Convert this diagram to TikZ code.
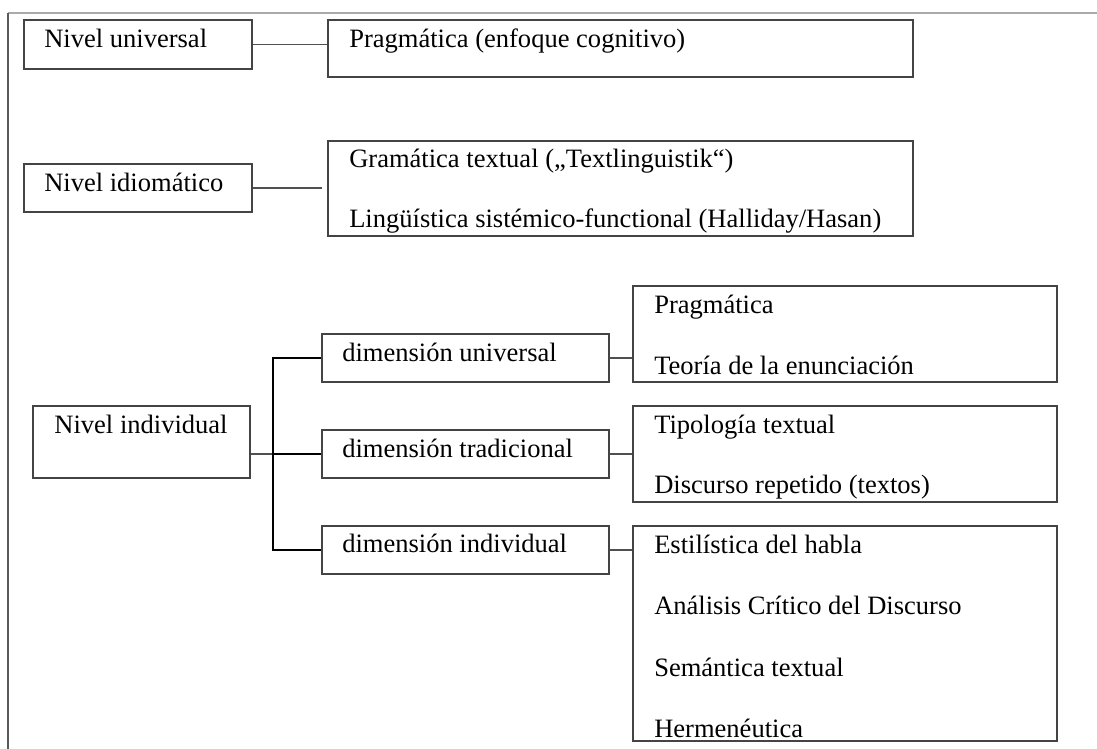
\documentclass[tikz,border=0pt]{standalone}
\usepackage{fontspec}
\setmainfont{Liberation Serif}
\usetikzlibrary{fit}
\definecolor{boxc}{HTML}{444444}
\definecolor{linec}{HTML}{505050}
\definecolor{framel}{HTML}{5A5A5A}
\definecolor{framet}{HTML}{AAAAAA}
\begin{document}
\begin{tikzpicture}[x=0.75pt,y=-0.75pt,
  box/.style={draw=boxc,line width=0.8pt,inner sep=0pt,rectangle},
  txt/.style={inner sep=0pt,anchor=base west,font=\fontsize{19.9}{24}\selectfont,text=black},
  conn/.style={draw=linec,line width=0.8pt},
  trunk/.style={draw=black,line width=0.9pt}]
\useasboundingbox (0,0) rectangle (1097,749);
% frame
\coordinate (ftl) at (8,13);
\coordinate (ftr) at (1097,13);
\coordinate (fbl) at (8,749);
\draw[framet,line width=1.2pt] (ftl) -- (ftr);
\draw[framel,line width=1.2pt] (ftl) -- (fbl);
% boxes
\node[box,fit={(24,20) (252,69)}] (nu) {};
\node[box,fit={(328,20) (913,77)}] (pc) {};
\node[box,fit={(24,164) (252,212)}] (ni) {};
\node[box,fit={(328,141) (913,236)}] (gt) {};
\node[box,fit={(33,406) (250,478)}] (nind) {};
\node[box,fit={(322,334) (609,382)}] (du) {};
\node[box,fit={(322,430) (609,478)}] (dt) {};
\node[box,fit={(322,526) (609,574)}] (di) {};
\node[box,fit={(633,286) (1057,382)}] (r1) {};
\node[box,fit={(633,406) (1057,502)}] (r2) {};
\node[box,fit={(633,526) (1057,741)}] (r3) {};
% texts
\node[txt] (tnu) at (44,48) {Nivel universal};
\node[txt] (tpc) at (349,48) {Pragmática (enfoque cognitivo)};
\node[txt] (tni) at (44,191) {Nivel idiomático};
\node[txt] (tgt1) at (349,167) {Gramática textual („Textlinguistik“)};
\node[txt] (tgt2) at (349,227) {Lingüística sistémico-functional (Halliday/Hasan)};
\node[txt,anchor=base] (tnind) at (141,433) {Nivel individual};
\node[txt] (tdu) at (342,361) {dimensión universal};
\node[txt] (tdt) at (342,457) {dimensión tradicional};
\node[txt] (tdi) at (342,552) {dimensión individual};
\node[txt] (tr11) at (654,313) {Pragmática};
\node[txt] (tr12) at (654,374) {Teoría de la enunciación};
\node[txt] (tr21) at (654,433) {Tipología textual};
\node[txt] (tr22) at (654,493) {Discurso repetido (textos)};
\node[txt] (tr31) at (654,553) {Estilística del habla};
\node[txt] (tr32) at (654,614) {Análisis Crítico del Discurso};
\node[txt] (tr33) at (654,676) {Semántica textual};
\node[txt] (tr34) at (654,737) {Hermenéutica};
% connectors
\draw[conn] (nu.east) -- (nu.east -| pc.west);
\coordinate (giend) at (322,188);
\draw[conn] (ni.east) -- (giend);
\coordinate (tr) at (273,454);
\draw[conn] (nind.east |- tr) -- (dt.west);
\draw[trunk] (du.west) -| (tr) |- (di.west);
\draw[trunk] (tr) -- (dt.west);
\draw[conn] (du.east) -- (du.east -| r1.west);
\draw[conn] (dt.east) -- (dt.east -| r2.west);
\draw[conn] (di.east) -- (di.east -| r3.west);
\end{tikzpicture}
\end{document}
